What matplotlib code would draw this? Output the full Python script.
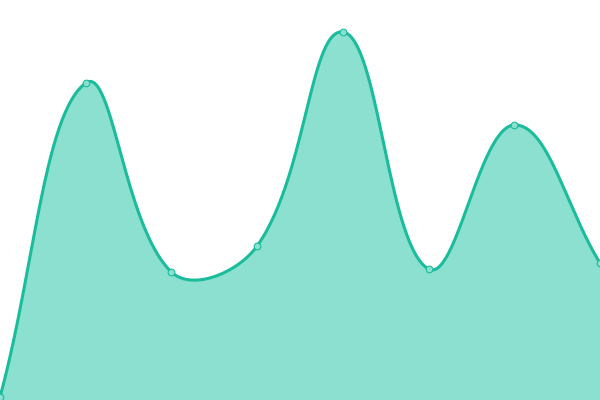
import matplotlib
matplotlib.use("Agg")
import matplotlib.pyplot as plt
import numpy as np

# data (canvas units: x 0..600, y 0..400 from bottom)
x_values = [0, 85.7, 171.4, 257.1, 342.9, 428.6, 514.3, 600]
y_values = [3, 317, 128, 154, 368, 131, 275, 137]

line_color = "#1abc9c"
fill_color = "#8be0d0"
tension = 0.4


def control_points(px, py, t):
    # bezier control points, same rule as chart.js splineCurve
    n = len(px)
    cps = []
    for i in range(n):
        p0 = (px[max(i - 1, 0)], py[max(i - 1, 0)])
        p1 = (px[i], py[i])
        p2 = (px[min(i + 1, n - 1)], py[min(i + 1, n - 1)])
        d01 = np.hypot(p1[0] - p0[0], p1[1] - p0[1])
        d12 = np.hypot(p2[0] - p1[0], p2[1] - p1[1])
        s01 = d01 / (d01 + d12) if d01 + d12 else 0
        s12 = d12 / (d01 + d12) if d01 + d12 else 0
        fa = t * s01
        fb = t * s12
        prev = (p1[0] - fa * (p2[0] - p0[0]), p1[1] - fa * (p2[1] - p0[1]))
        nxt = (p1[0] + fb * (p2[0] - p0[0]), p1[1] + fb * (p2[1] - p0[1]))
        cps.append((prev, nxt))
    return cps


cps = control_points(x_values, y_values, tension)
tt = np.linspace(0, 1, 60)
curve_x, curve_y = [], []
for i in range(len(x_values) - 1):
    a = np.array([x_values[i], y_values[i]])
    b = np.array(cps[i][1])
    c = np.array(cps[i + 1][0])
    d = np.array([x_values[i + 1], y_values[i + 1]])
    pts = ((1 - tt) ** 3)[:, None] * a + (3 * (1 - tt) ** 2 * tt)[:, None] * b \
        + (3 * (1 - tt) * tt ** 2)[:, None] * c + (tt ** 3)[:, None] * d
    curve_x.extend(pts[:, 0])
    curve_y.extend(pts[:, 1])
curve_x = np.array(curve_x)
curve_y = np.clip(np.array(curve_y), 0, 400)

fig = plt.figure(figsize=(6, 4), dpi=100)
ax = fig.add_axes([0, 0, 1, 1])
ax.fill_between(curve_x, curve_y, 0, color=fill_color, linewidth=0)
ax.plot(curve_x, curve_y, color=line_color, linewidth=2.2, solid_capstyle="round")
ax.plot(x_values, y_values, "o", markersize=4.8, markerfacecolor=fill_color,
        markeredgecolor=line_color, markeredgewidth=0.8, clip_on=False)
ax.set_xlim(0, 600)
ax.set_ylim(0, 400)
ax.axis("off")

plt.savefig("out.png", dpi=100)
